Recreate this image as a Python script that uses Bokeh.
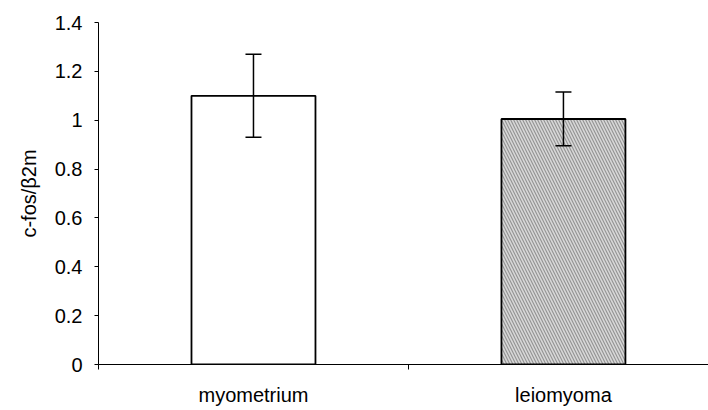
from bokeh.plotting import figure
from bokeh.models import ColumnDataSource, FixedTicker, Range1d, Whisker, TeeHead
from bokeh.embed import file_html
from bokeh.resources import INLINE

categories = ["myometrium", "leiomyoma"]
values = [1.10, 1.005]
errors = [0.17, 0.11]
fill_colors = ["white", "#939393"]
hatches = [" ", "\\"]
y_ticks = [0, 0.2, 0.4, 0.6, 0.8, 1.0, 1.2, 1.4]
y_tick_labels = ["0", "0.2", "0.4", "0.6", "0.8", "1", "1.2", "1.4"]

xs = [i + 0.5 for i in range(len(categories))]
src = ColumnDataSource(dict(
    x=xs, top=values,
    upper=[v + e for v, e in zip(values, errors)],
    lower=[v - e for v, e in zip(values, errors)],
    fill=fill_colors, hatch=hatches,
))

FONT = "Liberation Sans"
FS = "20px"
p = figure(width=708, height=410, output_backend="svg", toolbar_location=None,
           x_range=Range1d(0, 1.968), y_range=Range1d(0, 1.4),
           min_border_left=98, min_border_right=0, min_border_top=22, min_border_bottom=46)
p.outline_line_color = None
p.xgrid.visible = False
p.ygrid.visible = False
p.background_fill_color = "white"

p.vbar(x="x", top="top", width=0.4, bottom=0, source=src, fill_color="fill",
       line_color="black", line_width=1.8,
       hatch_pattern="hatch", hatch_color="#d8d8d8", hatch_scale=6, hatch_weight=1.6)

w = Whisker(base="x", upper="upper", lower="lower", source=src, line_color="black", line_width=1.5,
            upper_head=TeeHead(size=16, line_color="black", line_width=1.5),
            lower_head=TeeHead(size=16, line_color="black", line_width=1.5),
            level="overlay")
p.add_layout(w)

# y axis
p.yaxis.ticker = FixedTicker(ticks=y_ticks)
p.yaxis.major_label_overrides = {t: l for t, l in zip(y_ticks, y_tick_labels)}
p.yaxis.minor_tick_line_color = None
p.yaxis.major_tick_in = 0
p.yaxis.major_tick_out = 4
p.yaxis.major_label_standoff = 12
p.yaxis.major_label_text_font = FONT
p.yaxis.major_label_text_font_size = FS
p.yaxis.major_label_text_color = "black"
p.yaxis.axis_label = "c-fos/β2m"
p.yaxis.axis_label_text_font = FONT
p.yaxis.axis_label_text_font_size = FS
p.yaxis.axis_label_text_font_style = "normal"
p.yaxis.axis_label_text_color = "black"
p.yaxis.axis_label_standoff = 12
p.yaxis.axis_line_color = "black"
p.yaxis.major_tick_line_color = "black"

# x axis
p.xaxis.ticker = FixedTicker(ticks=xs, minor_ticks=list(range(len(categories) + 1)))
p.xaxis.major_label_overrides = {x: c for x, c in zip(xs, categories)}
p.xaxis.major_tick_line_color = None
p.xaxis.major_tick_out = 5
p.xaxis.minor_tick_in = 0
p.xaxis.minor_tick_out = 5
p.xaxis.minor_tick_line_color = "black"
p.xaxis.major_label_standoff = 14
p.xaxis.major_label_text_font = FONT
p.xaxis.major_label_text_font_size = FS
p.xaxis.major_label_text_color = "black"
p.xaxis.axis_line_color = "black"

open("out.html", "w").write(file_html(p, INLINE))
